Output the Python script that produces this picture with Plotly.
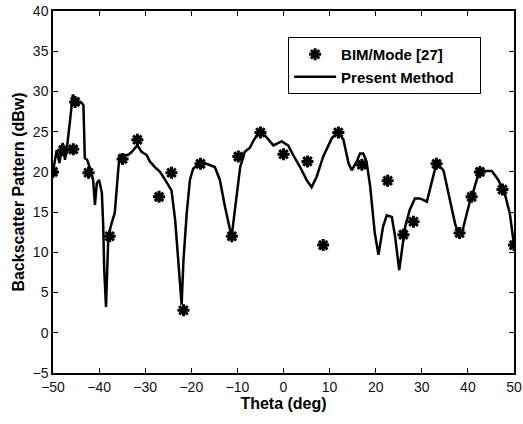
import plotly.graph_objects as go

# BIM/Mode [27] reference points
bim_theta = [-50, -47.8, -45.6, -45.2, -42.3, -37.7, -34.9, -31.7, -27.0, -24.3,
             -21.7, -18.0, -11.2, -9.8, -5.0, 0.0, 5.2, 8.6, 11.9, 17.0,
             22.6, 26.0, 28.2, 33.2, 38.2, 40.8, 42.6, 47.5, 50.0]
bim_val = [20.0, 22.7, 22.8, 28.7, 19.9, 12.0, 21.6, 24.0, 16.9, 19.9,
           2.8, 21.0, 12.0, 21.9, 24.9, 22.2, 21.3, 10.9, 24.9, 20.9,
           18.9, 12.2, 13.8, 21.0, 12.4, 16.9, 20.0, 17.8, 10.9]

# present method curve
pm_theta = [-50, -49.2, -48.6, -47.9, -47.4, -47.0, -46.3, -45.7, -44.9, -43.8,
            -43.4, -43.1, -42.6, -42.0, -41.3, -40.9, -40.5, -40.0, -39.4, -39.1,
            -38.9, -38.5, -38.2, -38.0, -37.3, -36.6, -35.8, -35.5, -33.7, -32.9,
            -31.7, -30.8, -29.7, -29.0, -27.9, -26.8, -26.1, -25.0, -24.3, -23.5,
            -22.8, -22.1, -21.7, -21.0, -20.3, -19.6, -18.1, -16.7, -14.9, -13.8,
            -12.7, -11.6, -11.2, -10.5, -9.4, -8.4, -7.3, -6.6, -5.5, -4.7,
            -3.6, -2.2, -0.4, 1.0, 2.1, 3.6, 5.0, 6.1, 7.2, 8.6,
            10.5, 11.9, 13.0, 14.1, 14.8, 15.9, 16.6, 17.3, 18.0, 18.8,
            19.8, 20.6, 21.6, 22.4, 23.5, 24.2, 25.1, 25.6, 26.4, 27.4,
            28.5, 29.6, 31.1, 32.1, 33.2, 34.7, 36.1, 37.2, 37.9, 38.7,
            40.5, 41.2, 42.0, 43.4, 45.2, 46.6, 48.0, 49.1, 50.0]
pm_val = [20.0, 22.7, 21.1, 23.6, 21.5, 22.9, 26.4, 29.6, 28.7, 28.6,
          28.3, 21.7, 21.5, 20.5, 19.0, 15.9, 18.6, 19.0, 17.4, 13.2,
          8.0, 3.2, 8.5, 12.0, 13.6, 14.9, 20.6, 22.1, 22.1, 22.5,
          23.3, 22.5, 22.1, 21.3, 20.6, 20.0, 19.4, 18.4, 17.7, 14.0,
          9.0, 3.5, 9.0, 14.8, 19.0, 20.4, 21.1, 21.0, 20.6, 19.0,
          15.7, 12.8, 12.2, 15.7, 20.6, 22.5, 23.0, 23.8, 24.8, 25.0,
          24.2, 23.3, 23.8, 23.3, 22.1, 20.6, 19.0, 18.1, 19.4, 21.9,
          24.2, 25.0, 24.0, 21.1, 20.2, 21.3, 22.3, 22.3, 21.3, 18.2,
          12.4, 9.7, 13.2, 14.6, 14.4, 12.0, 7.8, 9.9, 13.2, 15.3,
          16.7, 16.7, 16.3, 18.6, 21.1, 20.2, 16.5, 13.6, 12.4, 12.4,
          16.5, 17.6, 19.2, 20.1, 20.1, 19.0, 17.3, 14.8, 10.9]

FONT = "Liberation Sans, Arial, sans-serif"
PAD = "&nbsp;" * 5

fig = go.Figure()
fig.add_trace(go.Scatter(
    x=bim_theta, y=bim_val, mode="markers", name="<b>BIM/Mode [27]</b>" + PAD,
    marker=dict(symbol="asterisk", size=10, color="black",
                line=dict(color="black", width=3)),
))
fig.add_trace(go.Scatter(
    x=pm_theta, y=pm_val, mode="lines", name="<b>Present Method</b>" + PAD,
    line=dict(color="black", width=2.5),
))

axis_style = dict(
    showline=True, linecolor="black", linewidth=1.5, mirror="ticks",
    ticks="inside", ticklen=5, tickcolor="black", tickwidth=1,
    showgrid=False, zeroline=False, automargin=False,
    tickfont=dict(family=FONT, size=14, color="#111"),
)

fig.update_xaxes(range=[-50, 50], dtick=10, tick0=-50,
                 title=dict(text="<b>Theta (deg)</b>", standoff=4,
                            font=dict(family=FONT, size=16, color="black")),
                 **axis_style)
fig.update_yaxes(range=[-5, 40], dtick=5, tick0=-5,
                 title=dict(text="<b>Backscatter Pattern (dBw)</b>", standoff=4,
                            font=dict(family=FONT, size=16, color="black")),
                 **axis_style)

fig.update_layout(
    width=523, height=424,
    margin=dict(l=53, r=9, t=11, b=51),
    plot_bgcolor="white", paper_bgcolor="white",
    font=dict(family=FONT, size=14, color="black"),
    showlegend=True,
    legend=dict(x=0.51, y=0.928, xanchor="left", yanchor="top",
                bgcolor="white", bordercolor="black", borderwidth=1,
                font=dict(family=FONT, size=15, color="black"),
                tracegroupgap=0, itemwidth=42),
)

# drop the browser's default body margin so the figure sits at the page corner
fig.write_html("out.html", config={"displayModeBar": False},
               post_script="document.body.style.margin='0';")
